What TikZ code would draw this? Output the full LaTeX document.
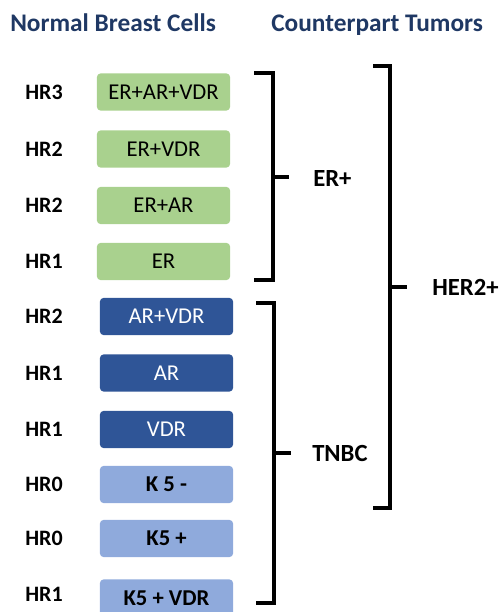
\documentclass[tikz,border=0pt]{standalone}
\usepackage{fontspec}
\setmainfont{Carlito}
\usepackage{tikz}
\usetikzlibrary{positioning,calc}
\definecolor{titleblue}{HTML}{1F3864}
\definecolor{ergreen}{HTML}{A9D18E}
\definecolor{tndark}{HTML}{2F5597}
\definecolor{k5light}{HTML}{8FAADC}
\tikzset{
  cellbox/.style={rounded corners=3pt,minimum width=100pt,minimum height=28pt,inner sep=0pt,font=\fontsize{17}{20}\selectfont},
  erbox/.style={cellbox,fill=ergreen,text=black},
  tnbox/.style={cellbox,fill=tndark,text=white},
  k5box/.style={cellbox,fill=k5light,text=black,font=\fontsize{17}{20}\selectfont\bfseries},
  hrlabel/.style={anchor=west,inner sep=0pt,font=\fontsize{16.5}{20}\selectfont\bfseries},
  grouplabel/.style={anchor=west,inner sep=0pt,font=\fontsize{18.5}{22}\selectfont\bfseries},
  headlabel/.style={anchor=base west,inner sep=0pt,text=titleblue,font=\fontsize{19}{23}\selectfont\bfseries}
}

\begin{document}
\begin{tikzpicture}[x=0.75pt,y=-0.75pt]

\clip (0,0) rectangle (501,612);

\node [headlabel] (normal) at (10,31) {Normal Breast Cells};
\node [headlabel] (tumors) at (271,31) {Counterpart Tumors};

% normal cells
\node [erbox] (erarvdr) at (163.5,92) {ER+AR+VDR};
\node [erbox] (ervdr) at (163.5,149) {ER+VDR};
\node [erbox] (erar) at (163.5,205.5) {ER+AR};
\node [erbox] (er) at (163.5,261.5) {ER};
\node [tnbox] (arvdr) at (166.5,316.5) {AR+VDR};
\node [tnbox] (ar) at (166.5,373) {AR};
\node [tnbox] (vdr) at (166.5,429.5) {VDR};
\node [k5box] (kneg) at (166.5,484.5) {K 5 -};
\node [k5box] (kpos) at (166.5,538.5) {K5 +};
\node [k5box] (kvdr) at (166.5,598) {K5 + VDR};

\node [hrlabel] (hr3) at (25,92) {HR3};
\node [hrlabel] (hr2a) at (25,149) {HR2};
\node [hrlabel] (hr2b) at (25,205.5) {HR2};
\node [hrlabel] (hr1a) at (25,261.5) {HR1};
\node [hrlabel] (hr2c) at (25,316.5) {HR2};
\node [hrlabel] (hr1b) at (25,373) {HR1};
\node [hrlabel] (hr1c) at (25,429.5) {HR1};
\node [hrlabel] (hr0a) at (25,484.5) {HR0};
\node [hrlabel] (hr0b) at (25,538.5) {HR0};
\node [hrlabel] (hr1d) at (25,594) {HR1};

% tumors
\node [grouplabel] (erpos) at (313,178) {ER+};
\node [grouplabel] (tnbc) at (312,453) {TNBC};
\node [grouplabel] (her2) at (432,287) {HER2+};

\coordinate (ertop) at (254,73);
\coordinate (erbot) at (254,280);
\coordinate (ermid) at (273,177);
\coordinate (ertip) at (289,177);
\coordinate (tntop) at (256,303);
\coordinate (tnbot) at (256,603);
\coordinate (tnmid) at (274,453);
\coordinate (tntip) at (291,453);
\coordinate (hetop) at (373,66);
\coordinate (hebot) at (373,508);
\coordinate (hemid) at (390,287);
\coordinate (hetip) at (407,287);

\begin{scope}[line width=2.6pt,line join=miter,color=black]
\draw (ertop) -| (ermid) |- (erbot);
\draw (ermid) -- (ertip);
\draw (tntop) -| (tnmid) |- (tnbot);
\draw (tnmid) -- (tntip);
\draw (hetop) -| (hemid) |- (hebot);
\draw (hemid) -- (hetip);
\end{scope}

\end{tikzpicture}
\end{document}
